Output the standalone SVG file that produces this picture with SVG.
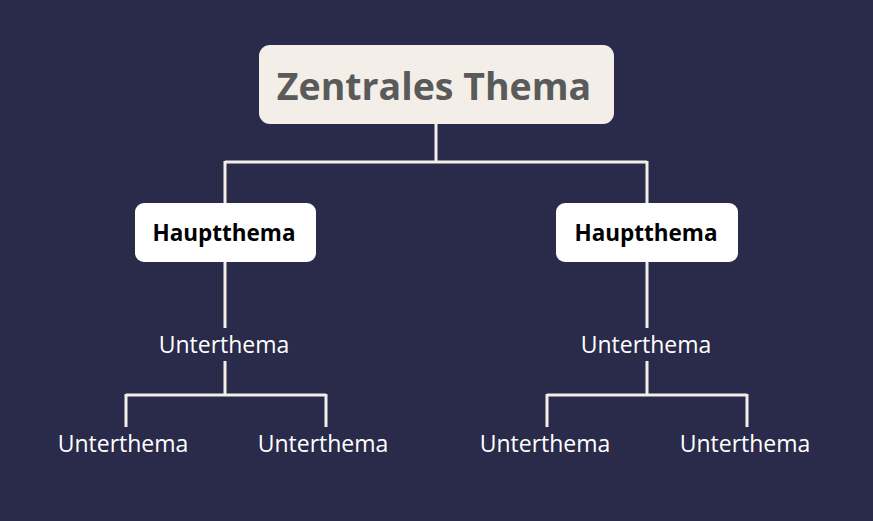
<svg xmlns="http://www.w3.org/2000/svg" width="873" height="521" viewBox="0 0 873 521">
<style>
.bg{fill:#2a2b4b}
.root{fill:#f3efe8}
.main{fill:#ffffff}
.line{stroke:#f3efe8;stroke-width:3;fill:none}
.t{font-family:"Open Sans","Noto Sans","Liberation Sans",sans-serif;text-anchor:middle}
.rt{font-size:37.5px;font-weight:bold;fill:#5a5a5a}
.ht{font-size:22.5px;font-weight:bold;fill:#000000}
.ut{font-size:23px;fill:#ffffff}
</style>
<rect class="bg" x="0" y="0" width="873" height="521"/>
<g id="connectors">
<path class="line" d="M436,124 V162 M225,162 H647 M225,161 V203 M647,161 V203"/>
<path class="line" d="M225,262 V328 M647,262 V328"/>
<path class="line" d="M225,361 V395 M126,395 H326 M126,394 V427 M326,394 V427"/>
<path class="line" d="M647,361 V395 M547,395 H747 M547,394 V427 M747,394 V427"/>
</g>
<g id="root">
<rect class="root" x="259" y="45" width="355" height="79" rx="11"/>
<text class="t rt" x="434" y="100">Zentrales Thema</text>
</g>
<g id="main-left">
<rect class="main" x="135" y="203" width="181" height="59" rx="9"/>
<text class="t ht" x="224" y="241">Hauptthema</text>
</g>
<g id="main-right">
<rect class="main" x="556" y="203" width="182" height="59" rx="9"/>
<text class="t ht" x="646" y="241">Hauptthema</text>
</g>
<g id="sub-left">
<text class="t ut" x="224" y="353">Unterthema</text>
</g>
<g id="sub-right">
<text class="t ut" x="646" y="353">Unterthema</text>
</g>
<g id="leaf-1"><text class="t ut" x="123" y="452">Unterthema</text></g>
<g id="leaf-2"><text class="t ut" x="323" y="452">Unterthema</text></g>
<g id="leaf-3"><text class="t ut" x="545" y="452">Unterthema</text></g>
<g id="leaf-4"><text class="t ut" x="745" y="452">Unterthema</text></g>
</svg>
